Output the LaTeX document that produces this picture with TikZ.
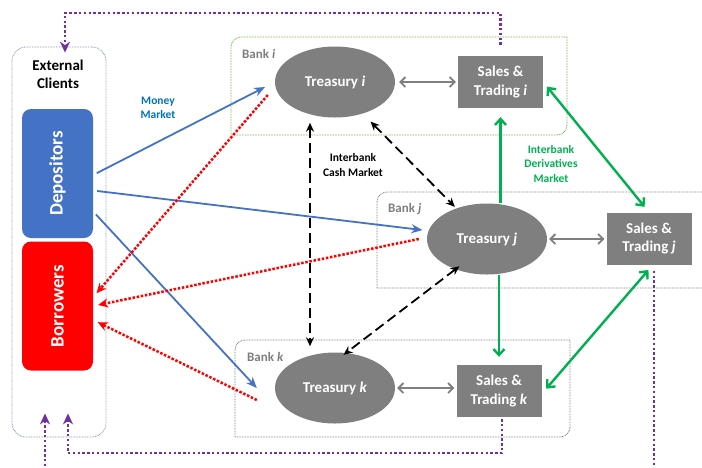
\documentclass[tikz,border=0pt]{standalone}
\usepackage{fontspec}
\usepackage{graphicx}
\setmainfont{Carlito}
\usetikzlibrary{shapes.geometric, arrows.meta}

\definecolor{boxblue}{HTML}{4472C4}
\definecolor{boxred}{HTML}{FF0000}
\definecolor{nodegray}{HTML}{7F7F7F}
\definecolor{labelblue}{HTML}{0070C0}
\definecolor{derivgreen}{HTML}{00B050}
\definecolor{bankgreen}{HTML}{70AD47}
\definecolor{flowpurple}{HTML}{7030A0}
\definecolor{clientline}{HTML}{8497B0}

\tikzstyle{clientbox} = [
    rectangle,
    rounded corners=14pt,
    minimum width=94pt,
    minimum height=390pt,
    draw=clientline,
    line width=0.8pt,
    dash pattern=on 0.8pt off 0.8pt
]
\tikzstyle{client} = [
    rectangle,
    rounded corners=9pt,
    minimum width=71pt,
    minimum height=129pt,
    inner sep=0pt,
    text=white,
    font=\fontsize{19}{22}\selectfont\bfseries
]
\tikzstyle{treasury} = [
    ellipse,
    minimum width=120pt,
    minimum height=71pt,
    inner sep=0pt,
    fill=nodegray,
    text=white,
    font=\fontsize{15}{18}\selectfont\bfseries
]
\tikzstyle{trading} = [
    rectangle,
    minimum width=85pt,
    minimum height=52pt,
    inner sep=0pt,
    align=center,
    fill=nodegray,
    text=white,
    font=\fontsize{15}{18.5}\selectfont\bfseries
]
\tikzstyle{banklabel} = [
    anchor=west,
    inner sep=0pt,
    text=nodegray,
    font=\fontsize{13}{15}\selectfont\bfseries
]
\tikzstyle{marketlabel} = [
    align=center,
    inner sep=0pt,
    font=\fontsize{11.5}{14.5}\selectfont\bfseries
]
\tikzstyle{bankline} = [line width=0.8pt, dash pattern=on 0.8pt off 0.8pt]
\tikzstyle{moneyarrow} = [line width=1.8pt, draw=boxblue, -{Stealth[length=11pt,width=9pt]}, shorten <=4pt]
\tikzstyle{loanarrow} = [line width=2.5pt, draw=boxred, dash pattern=on 2.5pt off 1.7pt, -{Stealth[length=10pt,width=9pt]}, shorten >=5pt]
\tikzstyle{cashflow} = [line width=1.8pt, dash pattern=on 10pt off 5pt, {Stealth[length=9pt,width=8pt]}-{Stealth[length=9pt,width=8pt]}]
\tikzstyle{derivarrow} = [line width=2.4pt, draw=derivgreen, -{Straight Barb[length=6pt,width=11pt]}]
\tikzstyle{greenboth} = [{Straight Barb[length=6pt,width=11pt]}-{Straight Barb[length=6pt,width=11pt]}]
\tikzstyle{linkarrow} = [line width=1.8pt, draw=nodegray, {Straight Barb[length=5pt,width=10pt]}-{Straight Barb[length=5pt,width=10pt]}]
\tikzstyle{feedback} = [line width=2.4pt, draw=flowpurple, dash pattern=on 2.4pt off 2.4pt, -{Stealth[length=11pt,width=10pt]}]

\begin{document}
\begin{tikzpicture}[x=1pt, y=-1pt]

\useasboundingbox (0,0) rectangle (702,467);
\clip (0,0) rectangle (702,467);

% banks
\draw [bankline, draw=bankgreen] (231,86) [rounded corners=10pt] -- (231,37) -- (399,37)
    [sharp corners] -- (567,37) -- (567,86) [rounded corners=10pt] -- (567,135) -- (399,135)
    [sharp corners] -- (231,135) -- cycle;
\draw [bankline, draw=nodegray] (377,240) [rounded corners=10pt] -- (377,192) -- (540,192)
    [sharp corners] -- (720,192) -- (720,288) -- (377,288) -- cycle;
\draw [bankline, draw=nodegray] (235,388) [rounded corners=10pt] -- (235,340) -- (400,340)
    [sharp corners] -- (570,340) -- (570,388) [rounded corners=10pt] -- (570,437) -- (400,437)
    [sharp corners] -- (235,437) -- cycle;

\node (banklabeli) [banklabel] at (242,54) {Bank \textit{i}};
\node (banklabelj) [banklabel] at (388,209) {Bank \textit{j}};
\node (banklabelk) [banklabel] at (247,357) {Bank \textit{k}};

% clients
\node (clients) [clientbox] at (59,242) {};

\node (clientstitle) [marketlabel, font=\fontsize{15}{18}\selectfont\bfseries] at (58,74)
{External\\Clients};

\node (depositors) [client, fill=boxblue] at (57.5,173.5) {\rotatebox{90}{Depositors}};

\node (borrowers) [client, fill=boxred] at (57.5,306) {\rotatebox{90}{Borrowers}};

% treasury and trading desks
\node (treasuryi) [treasury] at (335,82) {Treasury \textit{i}};
\node (tradingi) [trading] at (500.5,82) {Sales \&\\Trading \textit{i}};

\node (treasuryj) [treasury] at (487,239) {Treasury \textit{j}};
\node (tradingj) [trading] at (649,238.5) {Sales \&\\Trading \textit{j}};

\node (treasuryk) [treasury] at (335,388) {Treasury \textit{k}};
\node (tradingk) [trading] at (499,391) {Sales \&\\Trading \textit{k}};

% market labels
\node (moneymarket) [marketlabel, text=labelblue] at (158,108) {Money\\Market};
\node (cashmarket) [marketlabel] at (353,165) {Interbank\\Cash Market};
\node (derivmarket) [marketlabel, text=derivgreen] at (551,164) {Interbank\\Derivatives\\Market};

% money market
\draw [moneyarrow, shorten >=11pt] ([yshift=-1.5pt]depositors.east) -- (treasuryi.west);
\draw [moneyarrow, shorten >=6pt] ([yshift=-17pt]depositors.east) -- (treasuryj.172);
\draw [moneyarrow] ([yshift=-38pt]depositors.east) -- ([xshift=-18pt]treasuryk.west);

% loans
\draw [loanarrow] ([xshift=-7pt,yshift=-13pt]treasuryi.west) -- ([yshift=9pt]borrowers.east);
\draw [loanarrow] ([xshift=-8pt]treasuryj.west) -- (borrowers.east);
\draw [loanarrow] ([xshift=-18pt,yshift=-12pt]treasuryk.west) -- ([yshift=-14pt]borrowers.east);

% interbank cash market
\draw [cashflow, shorten <=5pt, shorten >=6pt] ([xshift=-25pt]treasuryi.south) -- ([xshift=-25pt]treasuryk.north);
\draw [cashflow, shorten <=4pt, shorten >=2pt] ([xshift=2pt,yshift=-6pt]treasuryi.-45) -- (treasuryj.135);
\draw [cashflow] ([xshift=15pt,yshift=-2pt]treasuryj.south west) -- ([xshift=-34pt,yshift=8pt]treasuryk.north east);

% interbank derivatives market
\draw [derivarrow, shorten >=9pt] (treasuryj.north -| tradingi.south) -- (tradingi.south);
\draw [derivarrow, shorten >=8pt] (treasuryj.south -| tradingk.north) -- (tradingk.north);
\draw [derivarrow, greenboth, shorten <=6pt, shorten >=7pt] (tradingi.east) -- (tradingj.north);
\draw [derivarrow, greenboth, shorten <=7pt, shorten >=7pt] ([yshift=-3pt]tradingk.east) -- ([xshift=4pt]tradingj.south);

% inside each bank
\draw [linkarrow, shorten <=4pt, shorten >=2pt] (treasuryi.east) -- (tradingi.west);
\draw [linkarrow, shorten <=2pt, shorten >=2pt] (treasuryj.east) -- (treasuryj.east -| tradingj.west);
\draw [linkarrow, shorten <=2pt, shorten >=2pt] (treasuryk.east) -- (treasuryk.east -| tradingk.west);

% back to clients
\draw [feedback] ([yshift=11pt]tradingi.north) -- ++(0,-32) -| ([xshift=6pt,yshift=-6pt]clients.north);
\draw [feedback] ([xshift=3pt,yshift=-2pt]tradingk.south) -- ++(0,34) -| ([xshift=9pt,yshift=24pt]clients.south);
\draw [feedback] ([xshift=5pt,yshift=-6pt]tradingj.south) -- ++(0,230) -| ([xshift=-14pt,yshift=24pt]clients.south);

\end{tikzpicture}
\end{document}
